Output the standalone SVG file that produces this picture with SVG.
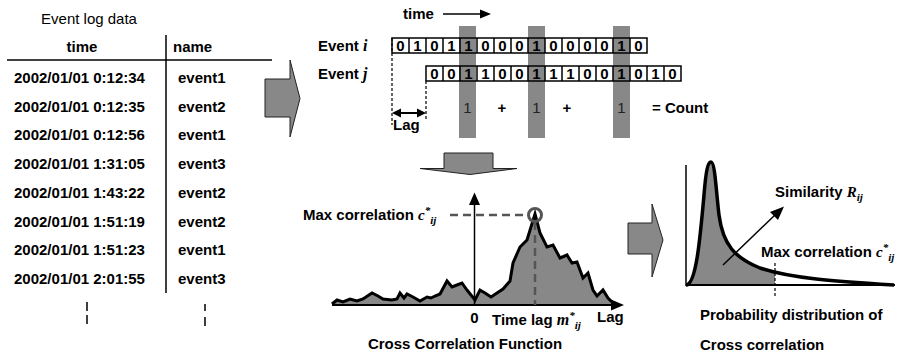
<svg xmlns="http://www.w3.org/2000/svg" width="903" height="357" viewBox="0 0 903 357">
  <style>
    .t { font-family: "Liberation Sans", Arial, sans-serif; font-weight: bold; font-size: 15px; fill: #000; }
    .n { font-weight: normal; }
    .it { font-family: "Liberation Serif", "Times New Roman", serif; font-style: italic; font-weight: bold; }
    .sub { font-family: "Liberation Serif", "Times New Roman", serif; font-style: italic; font-weight: bold; font-size: 11px; }
    .blk { fill: #888; stroke: #222; stroke-width: 1; }
    .cell { fill: none; stroke: #000; stroke-width: 1.5; }
    .shade { fill: #888; }
    .ln { stroke: #000; fill: none; }
    .dsh { stroke: #000; stroke-width: 1.2; stroke-dasharray: 3 2; fill: none; }
    .gdsh { stroke: #555; stroke-width: 2.5; stroke-dasharray: 8 5; fill: none; }
  </style>
  <defs>
    <clipPath id="tailClip"><rect x="680" y="150" width="95" height="140"/></clipPath>
  </defs>
  <rect width="903" height="357" fill="#fff"/>

  <!-- event log table -->
  <g id="table">
    <text class="t n" x="89" y="24" font-size="16" text-anchor="middle">Event log data</text>
    <text class="t" x="82" y="52" text-anchor="middle">time</text>
    <text class="t" x="173" y="52">name</text>
    <line class="ln" x1="7" y1="60" x2="272" y2="60" stroke-width="1.5"/>
    <line class="ln" x1="166" y1="35" x2="166" y2="293" stroke-width="1.5"/>
    <g class="t" font-size="15.5">
      <text x="14" y="83">2002/01/01 0:12:34</text>
      <text x="14" y="111.7">2002/01/01 0:12:35</text>
      <text x="14" y="140.4">2002/01/01 0:12:56</text>
      <text x="14" y="169.1">2002/01/01 1:31:05</text>
      <text x="14" y="197.8">2002/01/01 1:43:22</text>
      <text x="14" y="226.5">2002/01/01 1:51:19</text>
      <text x="14" y="255.2">2002/01/01 1:51:23</text>
      <text x="14" y="283.9">2002/01/01 2:01:55</text>
    </g>
    <g class="t" font-size="14">
      <text x="178" y="83">event1</text>
      <text x="178" y="111.7">event2</text>
      <text x="178" y="140.4">event1</text>
      <text x="178" y="169.1">event3</text>
      <text x="178" y="197.8">event2</text>
      <text x="178" y="226.5">event2</text>
      <text x="178" y="255.2">event1</text>
      <text x="178" y="283.9">event3</text>
    </g>
    <path class="ln" stroke-width="1.5" d="M87,302 V311 M87,315 V324 M205,304 V311 M205,317 V326"/>
  </g>

  <!-- block arrows between stages -->
  <g id="arrow-right-1"><polygon class="blk" points="265,79 290,79 290,60 300,98.5 290,137 290,117 265,117"/></g>
  <g id="arrow-down"><polygon class="blk" points="444,153 493,153 493,168.5 517,168.5 470,174.5 420,168.5 444,168.5"/></g>
  <g id="arrow-right-2"><polygon class="blk" points="628,223 652,223 652,204 663,240 652,277 652,254 628,254"/></g>

  <!-- binary event sequences -->
  <g id="sequences">
    <text class="t" x="403" y="19">time</text>
    <line class="ln" x1="443" y1="14" x2="481" y2="14" stroke-width="1.5"/>
    <polygon points="491,14 480,9.5 480,18.5" fill="#000"/>

    <rect class="shade" x="459" y="26" width="17" height="112"/>
    <rect class="shade" x="528" y="26" width="17" height="112"/>
    <rect class="shade" x="613" y="26" width="17" height="112"/>

    <text class="t" x="318" y="51">Event <tspan class="it" font-size="16">i</tspan></text>
    <text class="t" x="318" y="79">Event <tspan class="it" font-size="16">j</tspan></text>

    <g id="row-i">
      <path class="cell" d="M392,38 H647 V53 H392 Z M409,38 V53 M426,38 V53 M443,38 V53 M460,38 V53 M477,38 V53 M494,38 V53 M511,38 V53 M528,38 V53 M545,38 V53 M562,38 V53 M579,38 V53 M596,38 V53 M613,38 V53 M630,38 V53"/>
      <g class="t" text-anchor="middle">
        <text x="400.5" y="51">0</text><text x="417.5" y="51">1</text><text x="434.5" y="51">0</text><text x="451.5" y="51">1</text><text x="468.5" y="51">1</text>
        <text x="485.5" y="51">0</text><text x="502.5" y="51">0</text><text x="519.5" y="51">0</text><text x="536.5" y="51">1</text><text x="553.5" y="51">0</text>
        <text x="570.5" y="51">0</text><text x="587.5" y="51">0</text><text x="604.5" y="51">0</text><text x="621.5" y="51">1</text><text x="638.5" y="51">0</text>
      </g>
    </g>
    <g id="row-j">
      <path class="cell" d="M426,66 H681 V81 H426 Z M443,66 V81 M460,66 V81 M477,66 V81 M494,66 V81 M511,66 V81 M528,66 V81 M545,66 V81 M562,66 V81 M579,66 V81 M596,66 V81 M613,66 V81 M630,66 V81 M647,66 V81 M664,66 V81"/>
      <g class="t" text-anchor="middle">
        <text x="434.5" y="79">0</text><text x="451.5" y="79">0</text><text x="468.5" y="79">1</text><text x="485.5" y="79">1</text><text x="502.5" y="79">0</text>
        <text x="519.5" y="79">0</text><text x="536.5" y="79">1</text><text x="553.5" y="79">1</text><text x="570.5" y="79">1</text><text x="587.5" y="79">0</text>
        <text x="604.5" y="79">0</text><text x="621.5" y="79">1</text><text x="638.5" y="79">0</text><text x="655.5" y="79">1</text><text x="672.5" y="79">0</text>
      </g>
    </g>

    <g class="t">
      <text class="n" x="467.5" y="113" text-anchor="middle" fill="#222">1</text>
      <text class="n" x="536.5" y="113" text-anchor="middle" fill="#222">1</text>
      <text class="n" x="621.5" y="113" text-anchor="middle" fill="#222">1</text>
      <text x="502" y="113" text-anchor="middle">+</text>
      <text x="567" y="113" text-anchor="middle">+</text>
      <text x="652" y="113">= Count</text>
    </g>

    <!-- lag marker -->
    <line class="dsh" x1="392" y1="38" x2="392" y2="125"/>
    <line class="dsh" x1="426" y1="81" x2="426" y2="120"/>
    <line class="ln" x1="399" y1="113" x2="419" y2="113" stroke-width="2"/>
    <polygon points="392,113 401,108.5 401,117.5" fill="#000"/>
    <polygon points="426,113 417,108.5 417,117.5" fill="#000"/>
    <text class="t" x="393" y="130">Lag</text>
  </g>

  <!-- cross correlation function -->
  <g id="ccf">
    <polygon fill="#888" points="332,305 332,304 337,300 343,302 350,299 357,301 363,299 372,293 378,296 383,299 392,300 397,299 400,293 404,298 407,294 413,297 420,301 427,297 431,298 435,296 440,294 447,281 452,287 457,285 462,283 467,290 475,300 480,290 485,293 491,297 497,293 503,289 510,281 513,263 520,247 527,240 535,214 540,233 547,247 553,245 560,258 567,255 572,263 577,262 583,278 588,273 593,290 597,296 603,290 608,298 615,305"/>
    <polyline class="ln" stroke-width="3" stroke-linejoin="miter" points="332,304 337,300 343,302 350,299 357,301 363,299 372,293 378,296 383,299 392,300 397,299 400,293 404,298 407,294 413,297 420,301 427,297 431,298 435,296 440,294 447,281 452,287 457,285 462,283 467,290 475,300 480,290 485,293 491,297 497,293 503,289 510,281 513,263 520,247 527,240 535,214 540,233 547,247 553,245 560,258 567,255 572,263 577,262 583,278 588,273 593,290 597,296 603,290 608,298 615,305"/>
    <line class="ln" x1="332" y1="305" x2="613" y2="305" stroke-width="2"/>
    <polygon points="624,305 611,299.5 611,310.5" fill="#000"/>
    <line class="ln" x1="474.5" y1="305" x2="474.5" y2="202" stroke-width="1.5"/>
    <polygon points="474.5,192.5 469,205 480,205" fill="#000"/>
    <line class="gdsh" x1="450" y1="215" x2="528" y2="215"/>
    <line class="gdsh" x1="535" y1="222" x2="535" y2="305"/>
    <circle cx="535" cy="215" r="6.5" fill="none" stroke="#555" stroke-width="3"/>
    <text class="t" x="303" y="220" font-size="16.5">Max correlation <tspan class="it">c</tspan><tspan class="sub" dy="-6">*</tspan><tspan class="sub" dy="10">ij</tspan></text>
    <text class="t" x="474.5" y="323" font-size="16" text-anchor="middle">0</text>
    <text class="t" x="492" y="325">Time lag <tspan class="it" font-size="16">m</tspan><tspan class="sub" dy="-6">*</tspan><tspan class="sub" dy="10">ij</tspan></text>
    <text class="t" x="597" y="322" font-size="16">Lag</text>
    <text class="t" x="465" y="349" font-size="17" text-anchor="middle">Cross Correlation Function</text>
  </g>

  <!-- probability distribution of cross correlation -->
  <g id="distribution">
    <path clip-path="url(#tailClip)" fill="#888" d="M686,285 C696,285 700,240 704,195 C706,170 708,162 711,162 C715,162 716,190 719,215 C723,245 735,258 760,268 C790,278 830,281 894,285 Z"/>
    <line class="ln" x1="686" y1="165" x2="686" y2="286" stroke-width="1.5"/>
    <line class="ln" x1="686" y1="285" x2="895" y2="285" stroke-width="2"/>
    <path class="ln" stroke-width="3.5" d="M686,285 C696,285 700,240 704,195 C706,170 708,162 711,162 C715,162 716,190 719,215 C723,245 735,258 760,268 C790,278 830,281 894,285"/>
    <line class="dsh" x1="775" y1="263" x2="775" y2="296" stroke-dasharray="4 3"/>
    <line class="ln" x1="723" y1="265" x2="776" y2="214" stroke-width="1.5"/>
    <polygon points="784,206.5 770,212 778,220" fill="#000"/>
    <text class="t" x="775" y="197" font-size="16">Similarity <tspan class="it">R</tspan><tspan class="sub" dy="4">ij</tspan></text>
    <text class="t" x="761" y="257" font-size="16">Max correlation <tspan class="it">c</tspan><tspan class="sub" dy="-6">*</tspan><tspan class="sub" dy="10">ij</tspan></text>
    <text class="t" x="700" y="320">Probability distribution of</text>
    <text class="t" x="700" y="350">Cross correlation</text>
  </g>
</svg>
